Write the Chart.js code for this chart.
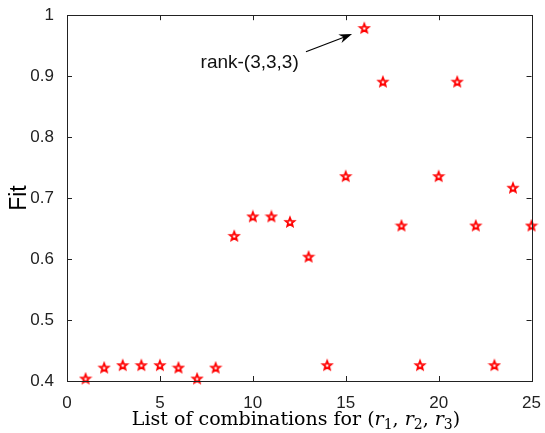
<!DOCTYPE html>
<html>
<head>
<meta charset="utf-8">
<script src="https://cdn.jsdelivr.net/npm/chart.js@4"></script>
<style>
  html, body { margin: 0; padding: 0; background: #fff; }
  #wrap { width: 545px; height: 433px; }
</style>
</head>
<body>
<div id="wrap"><canvas id="fitChart" width="545" height="433"></canvas></div>
<script>
// data
const combos = [1, 2, 3, 4, 5, 6, 7, 8, 9, 10, 11, 12, 13, 14, 15, 16, 17, 18, 19, 20, 21, 22, 23, 24, 25];
const fitValues = [0.404, 0.422, 0.426, 0.426, 0.426, 0.422, 0.404, 0.422, 0.638, 0.670,
                   0.670, 0.661, 0.604, 0.426, 0.736, 0.979, 0.891, 0.655, 0.426, 0.736,
                   0.891, 0.655, 0.426, 0.717, 0.655];
const xTicks = [0, 5, 10, 15, 20, 25];
const yTicks = [0.4, 0.5, 0.6, 0.7, 0.8, 0.9, 1];
const noteText = 'rank-(3,3,3)';

// red pentagram outline, like the matlab 'p' marker
function makeStar() {
    const c = document.createElement('canvas');
    c.width = 14; c.height = 14;
    const g = c.getContext('2d');
    const outer = 4.6, inner = 2.0;
    g.beginPath();
    for (let i = 0; i < 10; i++) {
        const r = i % 2 === 0 ? outer : inner;
        const a = -Math.PI / 2 + i * Math.PI / 5;
        const px = 7 + r * Math.cos(a), py = 7.4 + r * Math.sin(a);
        if (i === 0) g.moveTo(px, py); else g.lineTo(px, py);
    }
    g.closePath();
    g.strokeStyle = '#ff0000';
    g.lineWidth = 1.8;
    g.stroke();
    return c;
}

// box, inward ticks, titles and the arrow note
const decorations = {
    id: 'decorations',
    afterDraw(chart) {
        const ctx = chart.ctx;
        const a = chart.chartArea;
        const xs = chart.scales.x, ys = chart.scales.y;
        ctx.save();
        ctx.strokeStyle = '#222';
        ctx.lineWidth = 1;
        ctx.strokeRect(Math.round(a.left) + 0.5, Math.round(a.top) + 0.5,
                       Math.round(a.right - a.left), Math.round(a.bottom - a.top));
        ctx.beginPath();
        xTicks.forEach(v => {
            const px = Math.round(xs.getPixelForValue(v)) + 0.5;
            ctx.moveTo(px, a.bottom); ctx.lineTo(px, a.bottom - 5);
            ctx.moveTo(px, a.top); ctx.lineTo(px, a.top + 5);
        });
        yTicks.forEach(v => {
            const py = Math.round(ys.getPixelForValue(v)) + 0.5;
            ctx.moveTo(a.left, py); ctx.lineTo(a.left + 5, py);
            ctx.moveTo(a.right, py); ctx.lineTo(a.right - 5, py);
        });
        ctx.stroke();

        // y title
        ctx.fillStyle = '#000';
        ctx.font = '23px "Liberation Sans", Arial, sans-serif';
        ctx.textAlign = 'center';
        ctx.textBaseline = 'middle';
        ctx.save();
        ctx.translate(20, (a.top + a.bottom) / 2);
        ctx.rotate(-Math.PI / 2);
        ctx.fillText('Fit', 0, 0);
        ctx.restore();

        // x title with italic r and subscripts, sized to span the same width
        const build = size => [
            [size + 'px "DejaVu Serif", serif', 'List of combinations for (', 0],
            ['italic ' + size + 'px "DejaVu Serif", serif', 'r', 0],
            [Math.round(size * 0.72) + 'px "DejaVu Serif", serif', '1', 4],
            [size + 'px "DejaVu Serif", serif', ', ', 0],
            ['italic ' + size + 'px "DejaVu Serif", serif', 'r', 0],
            [Math.round(size * 0.72) + 'px "DejaVu Serif", serif', '2', 4],
            [size + 'px "DejaVu Serif", serif', ', ', 0],
            ['italic ' + size + 'px "DejaVu Serif", serif', 'r', 0],
            [Math.round(size * 0.72) + 'px "DejaVu Serif", serif', '3', 4],
            [size + 'px "DejaVu Serif", serif', ')', 0]
        ];
        const widthOf = parts => parts.reduce((s, p) => { ctx.font = p[0]; return s + ctx.measureText(p[1]).width; }, 0);
        let size = 22;
        while (size > 12 && widthOf(build(size)) > 340) size--;
        const parts = build(size);
        let cx = 296 - widthOf(parts) / 2;
        ctx.textAlign = 'left';
        ctx.textBaseline = 'alphabetic';
        parts.forEach(p => {
            ctx.font = p[0];
            ctx.fillText(p[1], cx, 425 + p[2]);
            cx += ctx.measureText(p[1]).width;
        });

        // annotation arrow towards the best point
        const tx = xs.getPixelForValue(12.86), ty = ys.getPixelForValue(0.940);
        const hx = xs.getPixelForValue(15.34), hy = ys.getPixelForValue(0.969);
        const ang = Math.atan2(hy - ty, hx - tx);
        ctx.strokeStyle = '#000';
        ctx.lineWidth = 1.2;
        ctx.beginPath();
        ctx.moveTo(tx, ty);
        ctx.lineTo(hx - 8 * Math.cos(ang), hy - 8 * Math.sin(ang));
        ctx.stroke();
        ctx.beginPath();
        ctx.moveTo(hx, hy);
        ctx.lineTo(hx - 13 * Math.cos(ang) + 4.5 * Math.sin(ang), hy - 13 * Math.sin(ang) - 4.5 * Math.cos(ang));
        ctx.lineTo(hx - 9 * Math.cos(ang), hy - 9 * Math.sin(ang));
        ctx.lineTo(hx - 13 * Math.cos(ang) - 4.5 * Math.sin(ang), hy - 13 * Math.sin(ang) + 4.5 * Math.cos(ang));
        ctx.closePath();
        ctx.fillStyle = '#000';
        ctx.fill();

        ctx.font = '19px "Liberation Sans", Arial, sans-serif';
        ctx.textAlign = 'center';
        ctx.fillStyle = '#111';
        ctx.fillText(noteText, xs.getPixelForValue(9.83), ys.getPixelForValue(0.914));
        ctx.restore();
    }
};

const tickFont = { family: '"Liberation Sans", Arial, sans-serif', size: 17 };

new Chart(document.getElementById('fitChart'), {
    type: 'scatter',
    data: {
        datasets: [{
            data: combos.map((c, i) => ({ x: c, y: fitValues[i] })),
            pointStyle: makeStar(),
            clip: false
        }]
    },
    options: {
        responsive: false,
        animation: false,
        layout: { padding: { left: 0, right: 12, top: 14, bottom: 0 } },
        plugins: { legend: { display: false }, tooltip: { enabled: false } },
        scales: {
            x: {
                type: 'linear',
                min: 0, max: 25,
                afterFit(scale) { scale.height = 52; },
                afterBuildTicks(scale) { scale.ticks = xTicks.map(v => ({ value: v })); },
                grid: { display: false },
                border: { display: false },
                ticks: { color: '#222', font: tickFont, padding: 4 }
            },
            y: {
                min: 0.4, max: 1,
                afterFit(scale) { scale.width = 67; },
                afterBuildTicks(scale) { scale.ticks = yTicks.map(v => ({ value: v })); },
                grid: { display: false },
                border: { display: false },
                ticks: {
                    color: '#222', font: tickFont, padding: 5,
                    callback: v => String(+v.toFixed(1))
                }
            }
        }
    },
    plugins: [decorations]
});
</script>
</body>
</html>
